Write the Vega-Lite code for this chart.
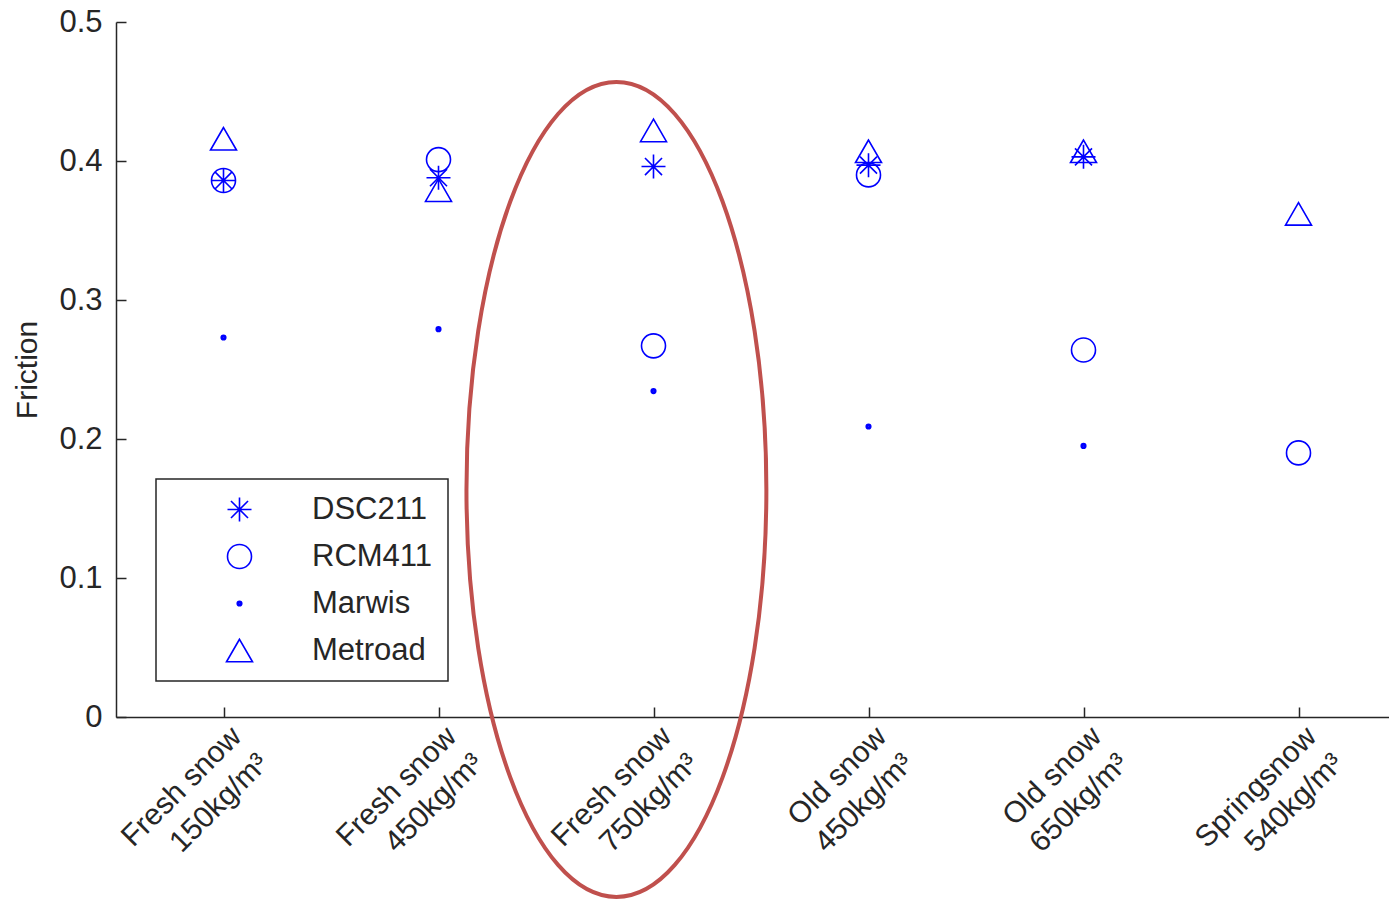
{
  "$schema": "https://vega.github.io/schema/vega-lite/v6.json",
  "width": 1290,
  "height": 695,
  "autosize": {"type": "none"},
  "padding": {"left": 116, "top": 22, "right": 0, "bottom": 182},
  "background": "white",
  "config": {
    "view": {"stroke": null},
    "font": "Liberation Sans",
    "axis": {
      "domainColor": "#262626",
      "domainWidth": 1.5,
      "tickColor": "#262626",
      "tickWidth": 1.5,
      "tickSize": -10,
      "grid": false,
      "labelColor": "#262626",
      "labelFont": "Liberation Sans",
      "labelFontSize": 31,
      "titleColor": "#262626",
      "titleFont": "Liberation Sans",
      "titleFontSize": 30,
      "titleFontWeight": "normal"
    },
    "legend": {
      "orient": "none",
      "legendX": 40,
      "legendY": 457,
      "direction": "vertical",
      "padding": 15,
      "rowPadding": 15,
      "symbolOffset": 53,
      "labelOffset": 57,
      "symbolSize": 576,
      "labelFont": "Liberation Sans",
      "labelFontSize": 31,
      "labelColor": "#262626",
      "strokeColor": "#262626",
      "strokeWidth": 1.5,
      "fillColor": "white",
      "symbolStrokeColor": "#0000FF",
      "symbolStrokeWidth": 1.6,
      "symbolFillColor": "transparent",
      "symbolOpacity": 1
    }
  },
  "datasets": {
    "points": [
      {"category": "Fresh snow|150kg/m³", "sensor": "DSC211", "friction": 0.386},
      {"category": "Fresh snow|150kg/m³", "sensor": "RCM411", "friction": 0.386},
      {"category": "Fresh snow|150kg/m³", "sensor": "Marwis", "friction": 0.273},
      {"category": "Fresh snow|150kg/m³", "sensor": "Metroad", "friction": 0.416},
      {"category": "Fresh snow|450kg/m³", "sensor": "DSC211", "friction": 0.388},
      {"category": "Fresh snow|450kg/m³", "sensor": "RCM411", "friction": 0.401},
      {"category": "Fresh snow|450kg/m³", "sensor": "Marwis", "friction": 0.279},
      {"category": "Fresh snow|450kg/m³", "sensor": "Metroad", "friction": 0.379},
      {"category": "Fresh snow|750kg/m³", "sensor": "DSC211", "friction": 0.396},
      {"category": "Fresh snow|750kg/m³", "sensor": "RCM411", "friction": 0.267},
      {"category": "Fresh snow|750kg/m³", "sensor": "Marwis", "friction": 0.2345},
      {"category": "Fresh snow|750kg/m³", "sensor": "Metroad", "friction": 0.422},
      {"category": "Old snow|450kg/m³", "sensor": "DSC211", "friction": 0.397},
      {"category": "Old snow|450kg/m³", "sensor": "RCM411", "friction": 0.39},
      {"category": "Old snow|450kg/m³", "sensor": "Marwis", "friction": 0.209},
      {"category": "Old snow|450kg/m³", "sensor": "Metroad", "friction": 0.407},
      {"category": "Old snow|650kg/m³", "sensor": "DSC211", "friction": 0.403},
      {"category": "Old snow|650kg/m³", "sensor": "RCM411", "friction": 0.264},
      {"category": "Old snow|650kg/m³", "sensor": "Marwis", "friction": 0.195},
      {"category": "Old snow|650kg/m³", "sensor": "Metroad", "friction": 0.407},
      {"category": "Springsnow|540kg/m³", "sensor": "RCM411", "friction": 0.19},
      {"category": "Springsnow|540kg/m³", "sensor": "Metroad", "friction": 0.362}
    ],
    "annotation": [
      {"category": "Fresh snow|750kg/m³", "friction": 0.1637}
    ]
  },
  "layer": [
    {
      "data": {"name": "points"},
      "mark": {"type": "point", "filled": false, "strokeWidth": 1.6, "color": "#0000FF", "opacity": 1, "size": 576},
      "encoding": {
        "x": {
          "field": "category",
          "type": "nominal",
          "scale": {
            "type": "point",
            "padding": 0.5,
            "domain": ["Fresh snow|150kg/m³", "Fresh snow|450kg/m³", "Fresh snow|750kg/m³", "Old snow|450kg/m³", "Old snow|650kg/m³", "Springsnow|540kg/m³"]
          },
          "axis": {
            "title": null,
            "labelAngle": -45,
            "labelAlign": "right",
            "labelBaseline": "top",
            "labelPadding": 14,
            "labelOffset": 2,
            "labelFontSize": 30,
            "labelLineHeight": 38,
            "labelExpr": "split(datum.label, '|')"
          }
        },
        "y": {
          "field": "friction",
          "type": "quantitative",
          "scale": {"domain": [0, 0.5], "nice": false, "zero": true},
          "axis": {
            "title": "Friction",
            "values": [0, 0.1, 0.2, 0.3, 0.4, 0.5],
            "labelExpr": "datum.value == 0 ? '0' : format(datum.value, '.1f')",
            "labelPadding": 24,
            "titlePadding": 16
          }
        },
        "shape": {
          "field": "sensor",
          "type": "nominal",
          "scale": {
            "domain": ["DSC211", "RCM411", "Marwis", "Metroad"],
            "range": [
              "M-1,0L1,0M0,-1L0,1M-0.71,-0.71L0.71,0.71M-0.71,0.71L0.71,-0.71",
              "circle",
              "M-0.05,0A0.05,0.05 0 1,1 0.05,0A0.05,0.05 0 1,1 -0.05,0ZM-0.12,0A0.12,0.12 0 1,1 0.12,0A0.12,0.12 0 1,1 -0.12,0ZM-0.19,0A0.19,0.19 0 1,1 0.19,0A0.19,0.19 0 1,1 -0.19,0Z",
              "M0,-0.938L-1.083,0.938L1.083,0.938Z"
            ]
          },
          "legend": {"title": null}
        }
      }
    },
    {
      "data": {"name": "annotation"},
      "mark": {
        "type": "point",
        "filled": false,
        "stroke": "#C0504D",
        "strokeWidth": 4,
        "opacity": 1,
        "shape": "M-0.091,-1A0.368,1 0 1,1 -0.091,1A0.368,1 0 1,1 -0.091,-1Z",
        "size": 664225
      },
      "encoding": {
        "x": {"field": "category", "type": "nominal"},
        "y": {"field": "friction", "type": "quantitative"}
      }
    }
  ]
}
